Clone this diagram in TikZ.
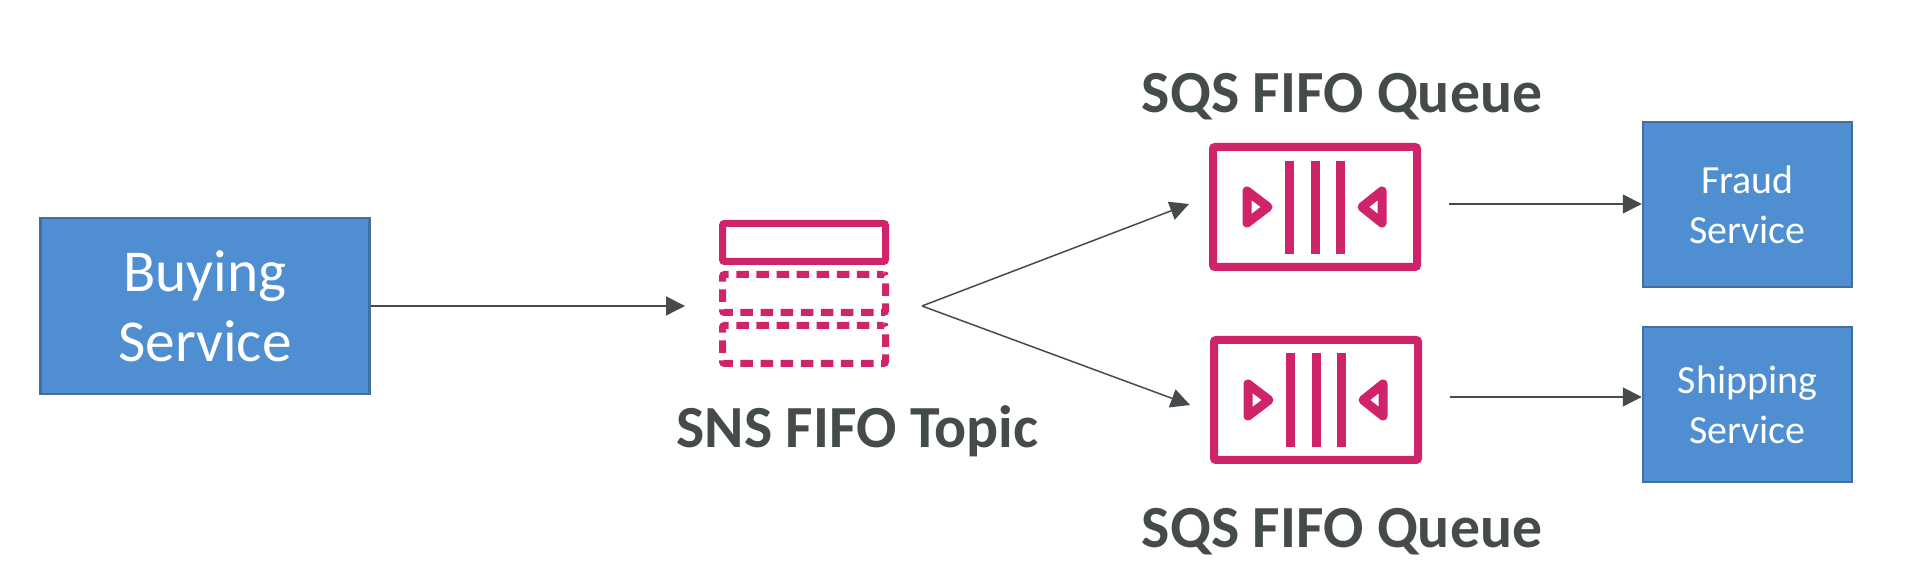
\documentclass[tikz,border=0pt]{standalone}
\usepackage{fontspec}
\setmainfont{Carlito}
\usepackage{xcolor}
\usetikzlibrary{arrows.meta}
\usetikzlibrary{positioning}
\definecolor{svcblue}{HTML}{4F8FD1}
\definecolor{svcedge}{HTML}{41709F}
\definecolor{awspink}{HTML}{D0246A}
\definecolor{labelgray}{HTML}{454B4B}

\begin{document}
\begin{tikzpicture}[
			bignode/.style={rectangle, draw=svcedge, fill=svcblue, line width=0.025cm, text=white, inner sep=0pt, align=center, font=\fontsize{16.9}{19.92}\selectfont},
			smallnode/.style={rectangle, draw=svcedge, fill=svcblue, line width=0.025cm, text=white, inner sep=0pt, align=center, font=\fontsize{11.35}{14.2}\selectfont},
			topicnode/.style={rectangle, draw=awspink, line width=0.07cm, rounded corners=0.02cm, inner sep=0pt, minimum width=1.63cm, minimum height=0.38cm},
			dashnode/.style={topicnode, dash pattern=on 0.125cm off 0.076cm, dash phase=0.06cm},
			queuenode/.style={rectangle, draw=awspink, line width=0.08cm, rounded corners=0.02cm, inner sep=0pt, minimum width=2.04cm, minimum height=1.2cm},
			captionnode/.style={anchor=base, text=labelgray, inner sep=0pt, font=\fontsize{17}{20}\selectfont\bfseries},
			qbar/.style={draw=awspink, line width=0.09cm},
			qmark/.style={draw=awspink, line width=0.09cm, line join=round},
			flow/.style={-{Triangle[length=0.19cm,width=0.19cm]}, draw=labelgray, line width=0.015cm},
			]
			\useasboundingbox (0,0) rectangle (19.06,5.87);
			
			%Nodes
			\node[bignode, minimum width=3.29cm, minimum height=1.76cm] (Buying) at (2.05,2.81) {Buying\\Service};
			\node[smallnode, minimum width=2.09cm, minimum height=1.65cm] (Fraud) at (17.475,3.825) {Fraud\\Service};
			\node[smallnode, minimum width=2.09cm, minimum height=1.55cm] (Shipping) at (17.475,1.825) {Shipping\\Service};
			
			\node[topicnode] (TopicTop) at (8.04,3.445) {};
			\node[dashnode] (TopicMid) at (8.04,2.935) {};
			\node[dashnode] (TopicLow) at (8.04,2.425) {};
			\node[queuenode] (QueueA) at (13.15,3.80) {};
			\node[queuenode] (QueueB) at (13.16,1.87) {};
			
			\node[captionnode] (TopicLabel) at (8.575,1.39) {SNS FIFO Topic};
			\node[captionnode] (QueueALabel) at (13.42,4.74) {SQS FIFO Queue};
			\node[captionnode] (QueueBLabel) at (13.42,0.39) {SQS FIFO Queue};
			
			%Free line ends
			\coordinate (TopicIn) at (6.85,2.81);
			\coordinate (Fan) at (9.22,2.81);
			\coordinate (QueueAIn) at (11.89,3.83);
			\coordinate (QueueBIn) at (11.90,1.82);
			\coordinate (QueueAOut) at (14.49,3.83);
			\coordinate (QueueBOut) at (14.50,1.90);
			
			%Queue icons
			\draw[qbar] (12.89,4.26) -- (12.89,3.33);
			\draw[qbar] (13.15,4.26) -- (13.15,3.33);
			\draw[qbar] (13.40,4.26) -- (13.40,3.33);
			\draw[qmark] (12.47,3.96) -- (12.47,3.64) -- (12.68,3.80) -- cycle;
			\draw[qmark] (13.82,3.96) -- (13.82,3.64) -- (13.62,3.80) -- cycle;
			
			\draw[qbar] (12.90,2.34) -- (12.90,1.40);
			\draw[qbar] (13.16,2.34) -- (13.16,1.40);
			\draw[qbar] (13.41,2.34) -- (13.41,1.40);
			\draw[qmark] (12.48,2.03) -- (12.48,1.71) -- (12.69,1.87) -- cycle;
			\draw[qmark] (13.83,2.03) -- (13.83,1.71) -- (13.63,1.87) -- cycle;
			
			%Lines
			\draw[flow] (Buying.east) -- (TopicIn);
			\draw[flow] (Fan) -- (QueueAIn);
			\draw[flow] (Fan) -- (QueueBIn);
			\draw[flow] (QueueAOut) -- (QueueAOut -| Fraud.west);
			\draw[flow] (QueueBOut) -- (QueueBOut -| Shipping.west);
		\end{tikzpicture}
\end{document}
